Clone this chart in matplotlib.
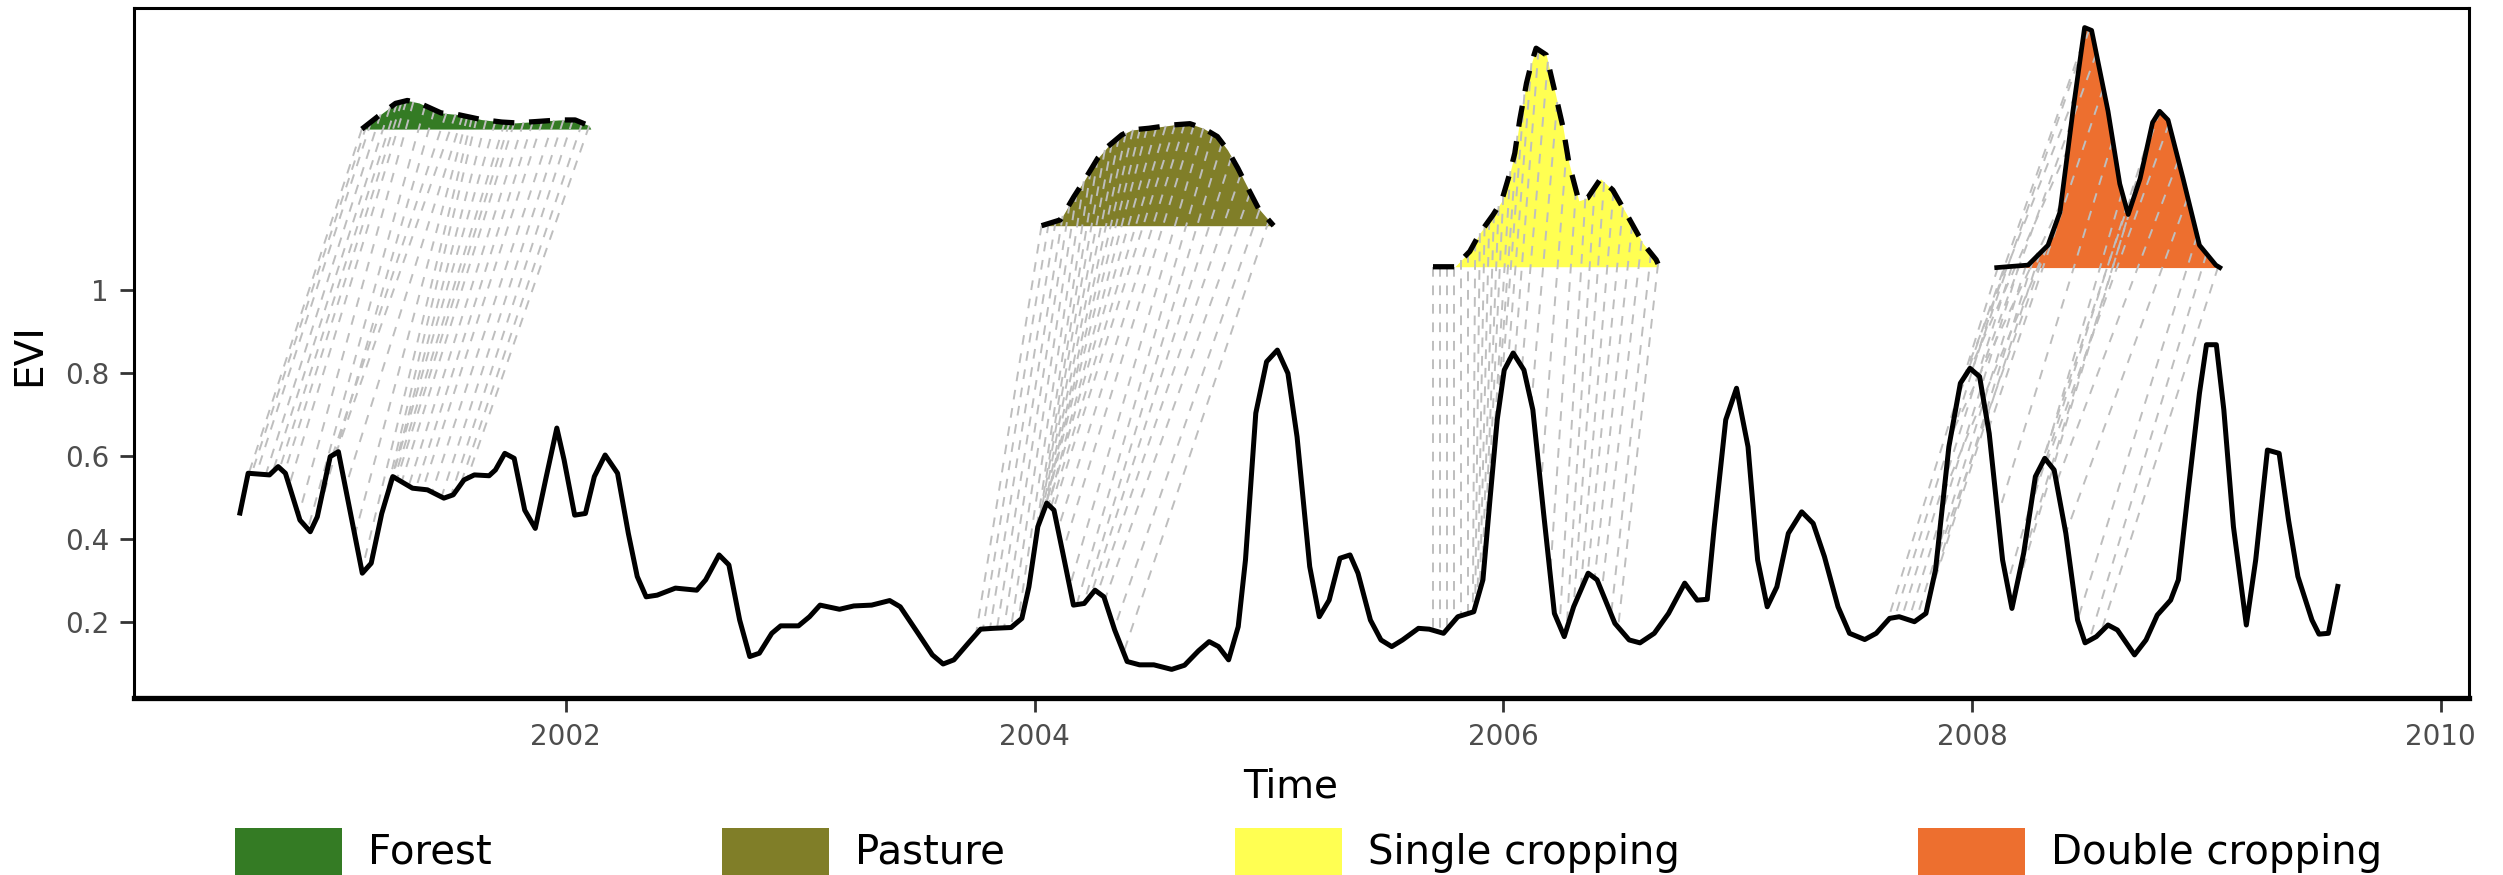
import numpy as np
import matplotlib
matplotlib.use('Agg')
import matplotlib.pyplot as plt
from matplotlib.patches import Rectangle

# EVI time series (decimal year, EVI)
ts_time = [2000.610, 2000.645, 2000.736, 2000.773, 2000.804, 2000.866, 2000.910, 2000.940, 2000.995, 2001.030,
           2001.079, 2001.132, 2001.170, 2001.215, 2001.262, 2001.346, 2001.410, 2001.480, 2001.520, 2001.566,
           2001.610, 2001.673, 2001.700, 2001.740, 2001.780, 2001.825, 2001.870, 2001.917, 2001.962, 2001.993,
           2002.038, 2002.084, 2002.122, 2002.168, 2002.221, 2002.267, 2002.305, 2002.343, 2002.390, 2002.468,
           2002.559, 2002.597, 2002.654, 2002.696, 2002.742, 2002.785, 2002.826, 2002.879, 2002.917, 2002.993,
           2003.040, 2003.085, 2003.168, 2003.229, 2003.305, 2003.382, 2003.427, 2003.503, 2003.564, 2003.610,
           2003.656, 2003.717, 2003.770, 2003.823, 2003.900, 2003.946, 2003.976, 2004.014, 2004.052, 2004.083,
           2004.121, 2004.166, 2004.212, 2004.258, 2004.296, 2004.342, 2004.395, 2004.448, 2004.509, 2004.585,
           2004.640, 2004.700, 2004.745, 2004.785, 2004.828, 2004.869, 2004.900, 2004.944, 2004.990, 2005.036,
           2005.081, 2005.120, 2005.174, 2005.215, 2005.257, 2005.303, 2005.346, 2005.380, 2005.433, 2005.478,
           2005.524, 2005.570, 2005.638, 2005.684, 2005.745, 2005.806, 2005.874, 2005.913, 2005.943, 2005.974,
           2006.004, 2006.042, 2006.088, 2006.126, 2006.172, 2006.218, 2006.260, 2006.300, 2006.362, 2006.400,
           2006.476, 2006.537, 2006.583, 2006.644, 2006.705, 2006.774, 2006.827, 2006.870, 2006.900, 2006.949,
           2006.995, 2007.044, 2007.085, 2007.126, 2007.167, 2007.216, 2007.273, 2007.322, 2007.370, 2007.428,
           2007.477, 2007.542, 2007.591, 2007.648, 2007.689, 2007.754, 2007.803, 2007.844, 2007.901, 2007.950,
           2007.991, 2008.032, 2008.073, 2008.130, 2008.170, 2008.220, 2008.270, 2008.310, 2008.350, 2008.400,
           2008.450, 2008.482, 2008.530, 2008.580, 2008.620, 2008.693, 2008.742, 2008.790, 2008.847, 2008.880,
           2008.921, 2008.970, 2009.000, 2009.042, 2009.074, 2009.115, 2009.170, 2009.210, 2009.260, 2009.310,
           2009.350, 2009.390, 2009.450, 2009.480, 2009.520, 2009.560]
ts_evi = [0.462, 0.558, 0.554, 0.574, 0.558, 0.445, 0.417, 0.453, 0.598, 0.610,
          0.469, 0.317, 0.341, 0.461, 0.550, 0.522, 0.518, 0.498, 0.506, 0.542,
          0.554, 0.552, 0.566, 0.606, 0.594, 0.469, 0.425, 0.550, 0.667, 0.590,
          0.457, 0.461, 0.550, 0.602, 0.558, 0.413, 0.309, 0.260, 0.264, 0.281,
          0.276, 0.301, 0.361, 0.337, 0.204, 0.116, 0.124, 0.172, 0.190, 0.190,
          0.212, 0.240, 0.230, 0.238, 0.240, 0.251, 0.236, 0.172, 0.120, 0.098,
          0.108, 0.148, 0.182, 0.184, 0.186, 0.208, 0.284, 0.429, 0.486, 0.469,
          0.365, 0.240, 0.244, 0.276, 0.260, 0.180, 0.104, 0.096, 0.096, 0.085,
          0.095, 0.130, 0.152, 0.140, 0.108, 0.188, 0.349, 0.703, 0.827, 0.855,
          0.799, 0.646, 0.333, 0.212, 0.252, 0.353, 0.361, 0.317, 0.204, 0.156,
          0.140, 0.156, 0.184, 0.182, 0.172, 0.212, 0.224, 0.301, 0.494, 0.687,
          0.807, 0.848, 0.807, 0.711, 0.461, 0.220, 0.164, 0.236, 0.317, 0.301,
          0.196, 0.156, 0.149, 0.172, 0.220, 0.293, 0.252, 0.254, 0.429, 0.687,
          0.763, 0.622, 0.349, 0.236, 0.284, 0.413, 0.465, 0.437, 0.357, 0.236,
          0.172, 0.157, 0.172, 0.208, 0.212, 0.200, 0.220, 0.325, 0.622, 0.775,
          0.811, 0.791, 0.654, 0.349, 0.232, 0.365, 0.550, 0.594, 0.566, 0.413,
          0.204, 0.149, 0.164, 0.192, 0.180, 0.120, 0.156, 0.216, 0.252, 0.301,
          0.510, 0.751, 0.868, 0.868, 0.711, 0.429, 0.192, 0.349, 0.614, 0.606,
          0.445, 0.309, 0.204, 0.170, 0.172, 0.285]

# patterns, as drawn above the series (shifted up)
forest_t = [2001.130, 2001.209, 2001.274, 2001.324, 2001.374, 2001.468, 2001.540, 2001.640,
            2001.727, 2001.785, 2001.870, 2001.970, 2002.040, 2002.100, 2002.107]
forest_v = [1.388, 1.423, 1.450, 1.457, 1.451, 1.427, 1.423, 1.411,
            1.405, 1.403, 1.406, 1.410, 1.410, 1.396, 1.388]

pasture_t = [2004.030, 2004.110, 2004.168, 2004.210, 2004.270, 2004.313, 2004.372, 2004.415, 2004.488,
             2004.590, 2004.663, 2004.720, 2004.780, 2004.823, 2004.867, 2004.910, 2004.955, 2005.020]
pasture_v = [1.155, 1.169, 1.225, 1.262, 1.318, 1.346, 1.374, 1.386, 1.390,
             1.398, 1.401, 1.390, 1.370, 1.338, 1.294, 1.246, 1.197, 1.155]

single_t = [2005.700, 2005.793, 2005.857, 2005.900, 2005.956, 2005.992, 2006.028, 2006.049, 2006.070,
            2006.099, 2006.120, 2006.140, 2006.183, 2006.218, 2006.254, 2006.280, 2006.322, 2006.360,
            2006.415, 2006.467, 2006.524, 2006.595, 2006.652, 2006.660]
single_v = [1.056, 1.056, 1.093, 1.137, 1.181, 1.213, 1.282, 1.330, 1.410,
            1.499, 1.547, 1.583, 1.567, 1.483, 1.394, 1.306, 1.215, 1.222,
            1.268, 1.241, 1.185, 1.113, 1.073, 1.063]

double_t = [2008.105, 2008.239, 2008.324, 2008.375, 2008.430, 2008.480, 2008.510, 2008.580, 2008.630,
            2008.666, 2008.717, 2008.770, 2008.800, 2008.836, 2008.900, 2008.970, 2009.040, 2009.057]
double_v = [1.054, 1.060, 1.108, 1.188, 1.431, 1.633, 1.626, 1.431, 1.256,
            1.182, 1.269, 1.404, 1.431, 1.410, 1.269, 1.108, 1.060, 1.054]

# alignment: pattern time -> matched time on the series
forest_match_p = [2001.13, 2001.15, 2001.17, 2001.21, 2001.25, 2001.28, 2001.30, 2001.32, 2001.35, 2001.40,
                  2001.44, 2001.49, 2001.53, 2001.56, 2001.58, 2001.60, 2001.62, 2001.66, 2001.70, 2001.74,
                  2001.76, 2001.78, 2001.82, 2001.86, 2001.90, 2001.95, 2001.99, 2002.03, 2002.07, 2002.10]
forest_match_s = [2000.64, 2000.66, 2000.68, 2000.72, 2000.75, 2000.78, 2000.80, 2000.82, 2000.86, 2000.90,
                  2000.94, 2000.98, 2001.02, 2001.06, 2001.10, 2001.13, 2001.16, 2001.20, 2001.24, 2001.27,
                  2001.28, 2001.30, 2001.33, 2001.36, 2001.39, 2001.43, 2001.47, 2001.51, 2001.55, 2001.58]

pasture_match_p = [2004.03, 2004.06, 2004.09, 2004.12, 2004.15, 2004.18, 2004.21, 2004.24, 2004.27, 2004.30,
                   2004.33, 2004.36, 2004.39, 2004.42, 2004.45, 2004.48, 2004.52, 2004.56, 2004.60, 2004.64,
                   2004.68, 2004.72, 2004.76, 2004.80, 2004.84, 2004.88, 2004.92, 2004.96, 2005.00]
pasture_match_s = [2003.75, 2003.78, 2003.81, 2003.84, 2003.87, 2003.90, 2003.93, 2003.96, 2003.99, 2004.02,
                   2004.03, 2004.04, 2004.05, 2004.05, 2004.05, 2004.06, 2004.06, 2004.07, 2004.08, 2004.10,
                   2004.12, 2004.15, 2004.18, 2004.21, 2004.24, 2004.27, 2004.30, 2004.34, 2004.38]

single_match_p = [2005.70, 2005.73, 2005.76, 2005.79, 2005.82, 2005.85, 2005.88, 2005.90, 2005.92, 2005.94,
                  2005.96, 2005.98, 2006.00, 2006.03, 2006.06, 2006.09, 2006.12, 2006.15, 2006.19, 2006.23,
                  2006.27, 2006.31, 2006.35, 2006.39, 2006.43, 2006.47, 2006.51, 2006.55, 2006.59, 2006.63, 2006.66]
single_match_s = [2005.70, 2005.73, 2005.76, 2005.79, 2005.82, 2005.85, 2005.87, 2005.88, 2005.89, 2005.90,
                  2005.91, 2005.92, 2005.93, 2005.95, 2005.97, 2005.99, 2006.02, 2006.05, 2006.08, 2006.12,
                  2006.16, 2006.20, 2006.24, 2006.27, 2006.30, 2006.33, 2006.36, 2006.39, 2006.42, 2006.46, 2006.49]

double_match_p = [2008.11, 2008.14, 2008.17, 2008.20, 2008.23, 2008.26, 2008.29, 2008.32, 2008.35, 2008.38,
                  2008.41, 2008.44, 2008.47, 2008.50, 2008.53, 2008.56, 2008.60, 2008.64, 2008.68, 2008.72,
                  2008.76, 2008.80, 2008.84, 2008.88, 2008.92, 2008.96, 2009.00, 2009.05]
double_match_s = [2007.64, 2007.67, 2007.70, 2007.73, 2007.76, 2007.79, 2007.82, 2007.85, 2007.88, 2007.91,
                  2007.94, 2007.96, 2007.98, 2008.00, 2008.03, 2008.07, 2008.11, 2008.15, 2008.18, 2008.21,
                  2008.25, 2008.29, 2008.32, 2008.36, 2008.40, 2008.45, 2008.50, 2008.55]

labels = ['Forest', 'Pasture', 'Single cropping', 'Double cropping']
colors = ['#347B24', '#807E28', '#FFFF52', '#ED6F2F']

patterns = [
    (forest_t, forest_v, forest_match_p, forest_match_s, '--'),
    (pasture_t, pasture_v, pasture_match_p, pasture_match_s, '--'),
    (single_t, single_v, single_match_p, single_match_s, '--'),
    (double_t, double_v, double_match_p, double_match_s, '-'),
]

W, H, DPI = 2503, 875, 200
fig = plt.figure(figsize=(W / DPI, H / DPI), dpi=DPI)
ax = fig.add_axes([134 / W, 1 - 698 / H, (2469 - 134) / W, (698 - 8) / H])

for (pt, pv, mp, ms, ls), col in zip(patterns, colors):
    base = min(pv)
    ax.fill_between(pt, pv, base, color=col, lw=0, zorder=1)
    # dashed connectors between pattern and matched series points
    top = np.interp(mp, pt, pv)
    bot = np.interp(ms, ts_time, ts_evi)
    for x0, y0, x1, y1 in zip(mp, top, ms, bot):
        ax.plot([x0, x1], [y0, y1], color='#BEBEBE', lw=0.7,
                linestyle=(0, (5, 4.5)), zorder=2)
    if ls == '--':
        ax.plot(pt, pv, color='black', lw=1.9, linestyle=(0, (4, 2.8)), zorder=3)
    else:
        ax.plot(pt, pv, color='black', lw=1.7, zorder=3)

ax.plot(ts_time, ts_evi, color='black', lw=1.8, zorder=4,
        solid_joinstyle='round')

ax.set_xlim(2000.158, 2010.12)
ax.set_ylim(0.016, 1.68)
ax.set_xticks([2002, 2004, 2006, 2008, 2010])
ax.set_xticklabels(['2002', '2004', '2006', '2008', '2010'])
ax.set_yticks([0.2, 0.4, 0.6, 0.8, 1.0])
ax.set_yticklabels(['0.2', '0.4', '0.6', '0.8', '1'])
ax.tick_params(axis='both', length=5, width=1.0, color='#333333',
               labelcolor='#4D4D4D', labelsize=10, pad=4)

for side in ['top', 'left', 'right']:
    ax.spines[side].set_linewidth(1.1)
ax.spines['bottom'].set_linewidth(1.9)

fig.text(29 / W, 1 - 355 / H, 'EVI', rotation=90, ha='center', va='center', fontsize=14)
fig.text(1291 / W, 1 - 787 / H, 'Time', ha='center', va='center', fontsize=14)

# legend along the bottom
rect_x = [235, 722, 1235, 1918]
for lab, col, rx in zip(labels, colors, rect_x):
    fig.add_artist(Rectangle((rx / W, 1 - 878 / H), 107 / W, 50 / H,
                             transform=fig.transFigure, color=col, lw=0))
    fig.text((rx + 133) / W, 1 - 853 / H, lab, ha='left', va='center', fontsize=14.5)

fig.savefig('out.png', dpi=DPI)
